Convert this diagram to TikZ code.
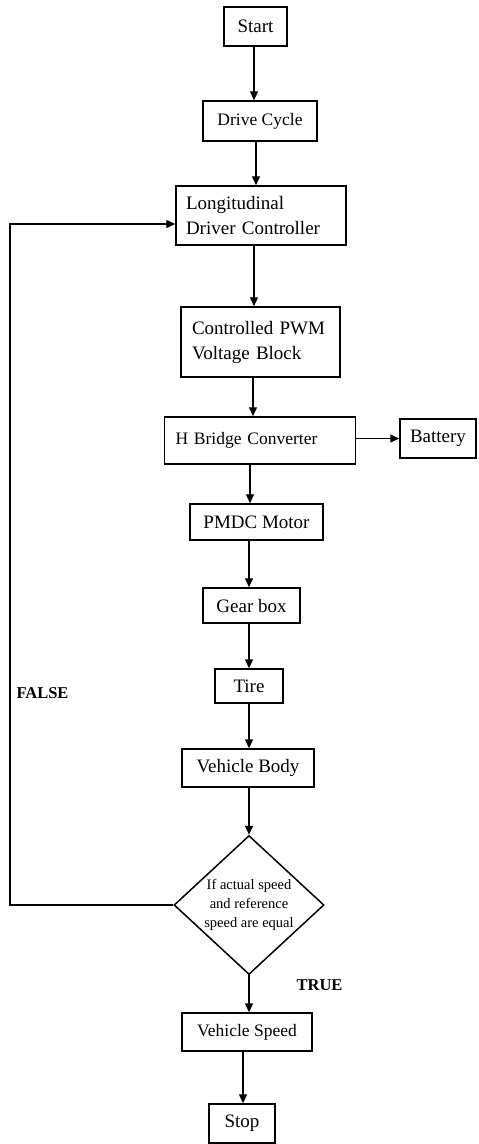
\documentclass[tikz,border=0pt]{standalone}
\usepackage{fontspec}
\setmainfont{Liberation Serif}
\usetikzlibrary{shapes.geometric,arrows.meta,calc}
\begin{document}
\begin{tikzpicture}[x=1pt,y=-1pt,
  box/.style={draw,line width=1.5pt,inner sep=0pt,font=\fontsize{19}{25}\selectfont},
  small/.style={font=\fontsize{17.5}{22}\selectfont},
  arr/.style={line width=1.4pt,-{Triangle[length=9pt,width=8pt]}},
  lbl/.style={font=\fontsize{16.5}{20}\selectfont\bfseries}]
\useasboundingbox (0,0) rectangle (479,1144);

\node[box,minimum width=63pt,minimum height=39pt] (start) at (255.5,26.5) {Start};
\node[box,small,minimum width=114pt,minimum height=40pt] (drive) at (260,121) {Drive Cycle};
\node[box,minimum width=170pt,minimum height=59pt,text width=150pt,align=left] (ldc) at (261,215.5) {Longitudinal\\Driver Controller};
\node[box,minimum width=159pt,minimum height=70pt,text width=137pt,align=left] (pwm) at (260.5,342) {Controlled PWM\\Voltage Block};
\node[box,small,minimum width=191pt,minimum height=47pt,text width=169pt,align=left] (hb) at (260,440.5) {H Bridge Converter};
\node[box,minimum width=76pt,minimum height=39pt] (bat) at (438,438.5) {Battery};
\node[box,minimum width=133pt,minimum height=36pt] (pmdc) at (256.5,522) {PMDC Motor};
\node[box,minimum width=97pt,minimum height=35pt] (gear) at (251.5,605.5) {Gear box};
\node[box,minimum width=68pt,minimum height=34pt] (tire) at (249,686) {Tire};
\node[box,minimum width=132pt,minimum height=38pt] (vbody) at (248,768) {Vehicle Body};
\node[draw,line width=1.5pt,diamond,aspect=1.08,inner sep=0pt,minimum width=150pt,minimum height=139pt,
      align=center,font=\fontsize{14.5}{19}\selectfont] (dia) at (249,905) {If actual speed\\and reference\\speed are equal};
\node[box,small,minimum width=130pt,minimum height=38pt] (vs) at (247,1032) {Vehicle Speed};
\node[box,minimum width=66pt,minimum height=39pt] (stop) at (242,1123.5) {Stop};

\node[lbl] (false) at (42.5,693) {FALSE};
\node[lbl] (true) at (319.5,985) {TRUE};

\draw[arr] ([xshift=-1.5pt]start.south) -- ([xshift=-1.5pt]start.south |- drive.north);
\draw[arr] ([xshift=-4pt]drive.south) -- ([xshift=-4pt]drive.south |- ldc.north);
\draw[arr] ([xshift=-7pt]ldc.south) -- ([xshift=-7pt]ldc.south |- pwm.north);
\draw[arr] ([xshift=-7.5pt]pwm.south) -- ([xshift=-7.5pt]pwm.south |- hb.north);
\draw[arr] ([xshift=-10pt]hb.south) -- ([xshift=-10pt]hb.south |- pmdc.north);
\draw[arr] (hb.east |- bat.west) -- (bat.west);
\draw[arr] ([xshift=-7.5pt]pmdc.south) -- ([xshift=-7.5pt]pmdc.south |- gear.north);
\draw[arr] ([xshift=-2.5pt]gear.south) -- ([xshift=-2.5pt]gear.south |- tire.north);
\draw[arr] (tire.south) -- (tire.south |- vbody.north);
\draw[arr] (vbody.south -| dia.north) -- (dia.north);
\draw[arr] (dia.south) -- (dia.south |- vs.north);
\draw[arr] ([xshift=-4pt]vs.south) -- ([xshift=-4pt]vs.south |- stop.north);

\coordinate (fb1) at (10,905);
\coordinate (fb2) at (10,224);
\draw[arr] (dia.west) -- (fb1) -- (fb2) -- (fb2 -| ldc.west);
\end{tikzpicture}
\end{document}
